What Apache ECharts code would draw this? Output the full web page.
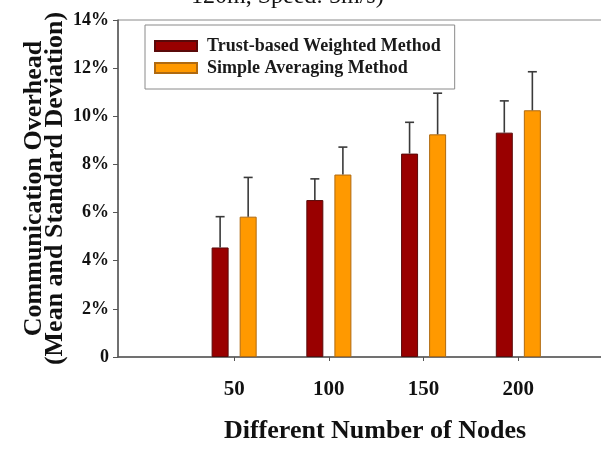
<!DOCTYPE html>
<html>
<head>
<meta charset="utf-8">
<script src="https://cdn.jsdelivr.net/npm/echarts@6/dist/echarts.min.js"></script>
<style>html,body{margin:0;padding:0;background:#fff;}#c{width:601px;height:449px;}</style>
</head>
<body>
<div id="c"></div>
<script>
// ---- data ----
const nodeCounts = [50, 100, 150, 200];
const trustMean = [4.55, 6.52, 8.45, 9.32];
const trustSd = [1.28, 0.88, 1.30, 1.32];
const avgMean = [5.83, 7.58, 9.25, 10.25];
const avgSd = [1.63, 1.14, 1.71, 1.60];
const yTicks = [0, 2, 4, 6, 8, 10, 12, 14];
const seriesNames = ['Trust-based Weighted Method', 'Simple Averaging Method'];
const titleFragment = '120m, Speed: 5m/s)';

// ---- style ----
const BAR_W = 17;
const GAP = 0.65;
const OFF = (BAR_W + BAR_W * GAP) / 2;
const SERIF = '"Liberation Serif", "Times New Roman", serif';

function errSeries(means, sds, dir) {
  return {
    type: 'custom',
    name: 'err' + dir,
    z: 5,
    silent: true,
    encode: { x: 0, y: 1 },
    data: nodeCounts.map((n, i) => [n, means[i], sds[i]]),
    renderItem: function (params, api) {
      const x = api.value(0), v = api.value(1), s = api.value(2);
      const p0 = api.coord([x, v]);
      const p1 = api.coord([x, v + s]);
      const cx = p0[0] + dir * OFF;
      const st = { stroke: '#3a3a3a', lineWidth: 1.6 };
      return {
        type: 'group',
        children: [
          { type: 'line', shape: { x1: cx, y1: p0[1], x2: cx, y2: p1[1] }, style: st },
          { type: 'line', shape: { x1: cx - 4.5, y1: p1[1], x2: cx + 4.5, y2: p1[1] }, style: st }
        ]
      };
    }
  };
}

const chart = echarts.init(document.getElementById('c'), null, { renderer: 'canvas' });
chart.setOption({
  animation: false,
  backgroundColor: '#ffffff',
  grid: {
    left: 118, top: 20, height: 337, width: 514,
    containLabel: false, outerBoundsMode: 'none',
    show: true, borderColor: '#8a8a8a', borderWidth: 1
  },
  legend: {
    left: 145, top: 25,
    orient: 'vertical',
    data: seriesNames,
    itemWidth: 42, itemHeight: 10, itemGap: 4,
    padding: [12, 14, 12, 9],
    borderColor: '#8a8a8a', borderWidth: 1,
    icon: 'rect',
    textStyle: { fontFamily: SERIF, fontWeight: 'bold', fontSize: 18, color: '#1a1a1a', padding: [0, 0, 0, 5] }
  },
  xAxis: {
    type: 'value',
    min: -11.3, max: 260,
    name: 'Different Number of Nodes',
    nameLocation: 'middle',
    nameGap: 61,
    nameMoveOverlap: false,
    nameTextStyle: { fontFamily: SERIF, fontWeight: 'bold', fontSize: 26, color: '#111' },
    axisLine: { onZero: false, lineStyle: { color: '#555', width: 1.5 } },
    axisTick: { customValues: nodeCounts, length: 4, lineStyle: { color: '#555' } },
    axisLabel: {
      customValues: nodeCounts, margin: 22,
      fontFamily: SERIF, fontWeight: 'bold', fontSize: 21, color: '#111'
    },
    splitLine: { show: false }
  },
  yAxis: {
    type: 'value',
    min: 0, max: 14, interval: 2,
    name: 'Communication Overhead\n(Mean and Standard Deviation)',
    nameLocation: 'middle',
    nameRotate: 90,
    nameGap: 52,
    nameMoveOverlap: false,
    nameTextStyle: { fontFamily: SERIF, fontWeight: 'bold', fontSize: 26, lineHeight: 21, color: '#111' },
    axisLine: { show: true, onZero: false, lineStyle: { color: '#555', width: 1.5 } },
    axisTick: { show: true, length: 5, lineStyle: { color: '#555' } },
    axisLabel: {
      margin: 9,
      fontFamily: SERIF, fontWeight: 'bold', fontSize: 18, color: '#111',
      formatter: v => (v === 0 ? '0' : v + '%')
    },
    splitLine: { show: false }
  },
  graphic: [{
    type: 'text', left: 191, top: -15,
    style: { text: titleFragment, font: '24px ' + SERIF, fill: '#111' }
  }],
  series: [
    {
      type: 'bar', name: seriesNames[0],
      barWidth: BAR_W, barGap: (GAP * 100) + '%',
      itemStyle: { color: '#990000', borderColor: '#5a0a0a', borderWidth: 1 },
      data: nodeCounts.map((n, i) => [n, trustMean[i]])
    },
    {
      type: 'bar', name: seriesNames[1],
      barWidth: BAR_W, barGap: (GAP * 100) + '%',
      itemStyle: { color: '#ff9900', borderColor: '#b06a10', borderWidth: 1 },
      data: nodeCounts.map((n, i) => [n, avgMean[i]])
    },
    errSeries(trustMean, trustSd, -1),
    errSeries(avgMean, avgSd, 1)
  ]
});
</script>
</body>
</html>
